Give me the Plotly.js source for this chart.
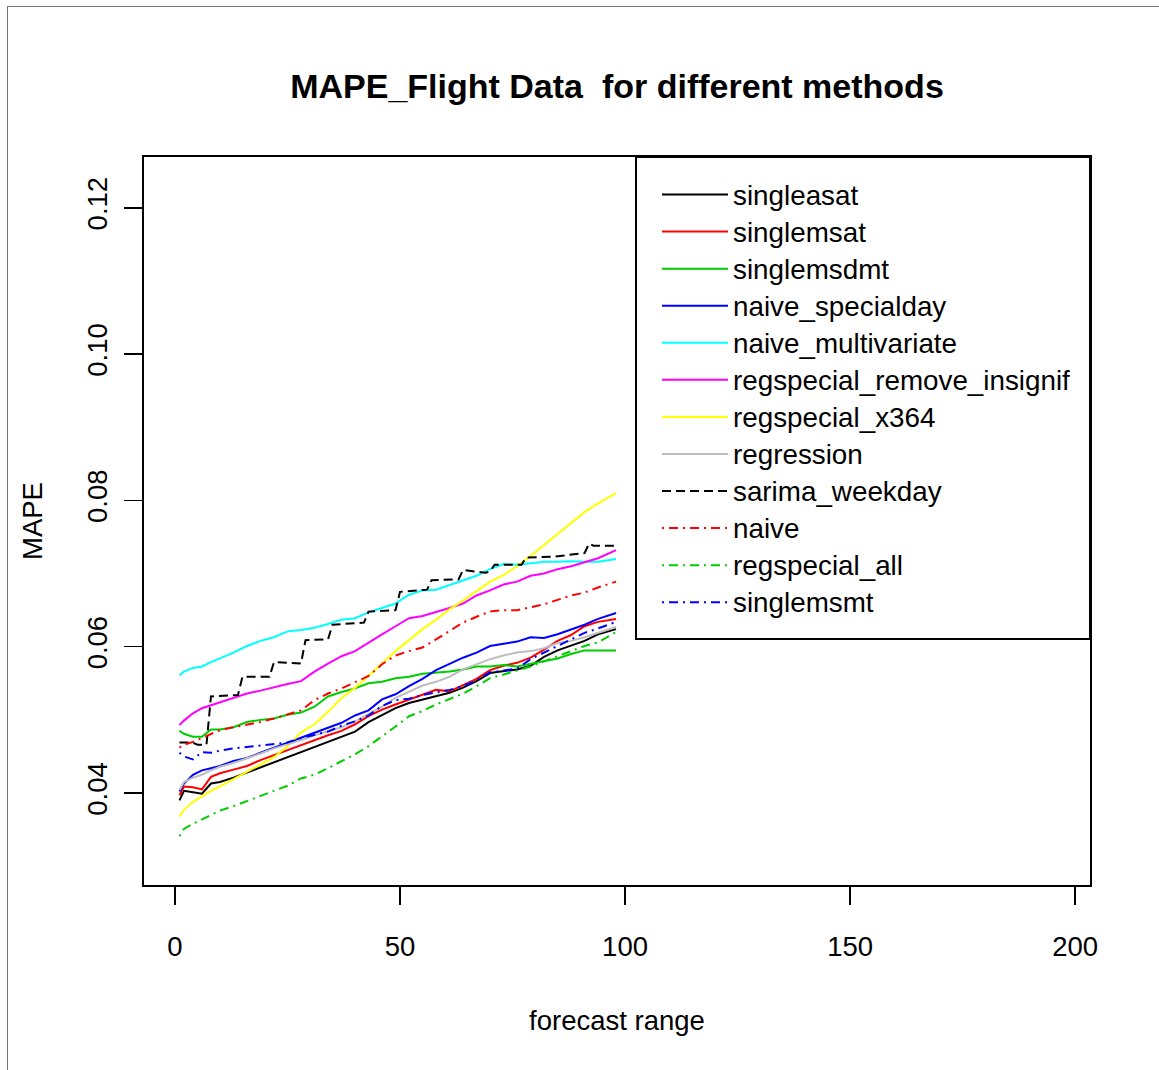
<!DOCTYPE html>
<html>
<head>
<meta charset="utf-8">
<script src="https://cdn.plot.ly/plotly-3.0.1.min.js"></script>
<style>
  html, body { margin: 0; padding: 0; background: #ffffff; }
  #wrap { position: relative; width: 1159px; height: 1070px; overflow: hidden; }
  #chart { position: absolute; left: 0; top: 0; width: 1159px; height: 1070px; }
  #frame { position: absolute; left: 7px; top: 6px; right: -2px; bottom: -2px;
           border-top: 1px solid #777777; border-left: 1px solid #777777; pointer-events: none; }
</style>
</head>
<body>
<div id="wrap"><div id="chart"></div><div id="frame"></div></div>
<script>
// ---- data ----
const forecastRange = [1,2,4,6,8,10,13,16,19,22,25,28,31,34,37,40,43,46,49,52,55,58,61,64,67,70,73,76,79,82,85,88,91,94,98];

const singleasat = [0.0390,0.0403,0.0401,0.0399,0.0413,0.0415,0.0421,0.0428,0.0434,0.0441,0.0449,0.0456,0.0463,0.0470,0.0477,0.0484,0.0497,0.0507,0.0516,0.0523,0.0528,0.0533,0.0537,0.0544,0.0553,0.0564,0.0566,0.0569,0.0574,0.0586,0.0595,0.0601,0.0608,0.0617,0.0624];
const singlemsat = [0.0397,0.0409,0.0408,0.0405,0.0422,0.0427,0.0432,0.0437,0.0445,0.0452,0.0459,0.0466,0.0473,0.0479,0.0485,0.0494,0.0505,0.0514,0.0521,0.0528,0.0535,0.0541,0.0539,0.0547,0.0556,0.0568,0.0574,0.0578,0.0585,0.0596,0.0608,0.0616,0.0628,0.0634,0.0638];
const singlemsdmt = [0.0485,0.0481,0.0477,0.0477,0.0487,0.0487,0.0490,0.0497,0.0500,0.0502,0.0507,0.0510,0.0518,0.0532,0.0538,0.0543,0.0550,0.0552,0.0557,0.0559,0.0563,0.0564,0.0566,0.0569,0.0573,0.0573,0.0575,0.0573,0.0577,0.0581,0.0584,0.0590,0.0595,0.0595,0.0595];
const naive_specialday = [0.0402,0.0413,0.0425,0.0431,0.0434,0.0437,0.0444,0.0448,0.0455,0.0462,0.0469,0.0476,0.0483,0.0490,0.0496,0.0506,0.0513,0.0528,0.0535,0.0546,0.0556,0.0568,0.0577,0.0585,0.0592,0.0601,0.0604,0.0607,0.0613,0.0612,0.0617,0.0623,0.0630,0.0638,0.0646];
const naive_multivariate = [0.0561,0.0566,0.0571,0.0573,0.0579,0.0584,0.0592,0.0601,0.0608,0.0613,0.0621,0.0623,0.0626,0.0631,0.0637,0.0639,0.0647,0.0653,0.0659,0.0671,0.0677,0.0678,0.0684,0.0690,0.0697,0.0706,0.0713,0.0712,0.0714,0.0716,0.0716,0.0717,0.0716,0.0716,0.0720];
const regspecial_remove_insignif = [0.0493,0.0499,0.0509,0.0516,0.0520,0.0524,0.0531,0.0536,0.0540,0.0545,0.0549,0.0553,0.0566,0.0577,0.0587,0.0594,0.0606,0.0617,0.0628,0.0639,0.0642,0.0647,0.0653,0.0659,0.0670,0.0677,0.0685,0.0689,0.0697,0.0700,0.0706,0.0710,0.0716,0.0721,0.0732];
const regspecial_x364 = [0.0368,0.0377,0.0388,0.0396,0.0403,0.0409,0.0419,0.0428,0.0438,0.0449,0.0464,0.0483,0.0494,0.0511,0.0530,0.0544,0.0560,0.0577,0.0594,0.0609,0.0624,0.0637,0.0651,0.0663,0.0676,0.0689,0.0698,0.0710,0.0724,0.0739,0.0753,0.0768,0.0784,0.0796,0.0810];
const regression = [0.0404,0.0415,0.0421,0.0425,0.0431,0.0436,0.0441,0.0447,0.0454,0.0461,0.0466,0.0472,0.0479,0.0484,0.0490,0.0498,0.0508,0.0518,0.0530,0.0539,0.0547,0.0552,0.0559,0.0569,0.0576,0.0583,0.0588,0.0592,0.0594,0.0598,0.0605,0.0608,0.0613,0.0619,0.0627];
const naive = [0.0462,0.0466,0.0470,0.0475,0.0481,0.0486,0.0490,0.0493,0.0497,0.0502,0.0507,0.0513,0.0527,0.0536,0.0543,0.0551,0.0560,0.0576,0.0588,0.0594,0.0599,0.0610,0.0622,0.0633,0.0641,0.0648,0.0650,0.0650,0.0654,0.0658,0.0664,0.0670,0.0674,0.0681,0.0689];
const regspecial_all = [0.0341,0.0351,0.0358,0.0364,0.0370,0.0376,0.0382,0.0389,0.0396,0.0402,0.0410,0.0420,0.0425,0.0434,0.0443,0.0453,0.0464,0.0477,0.0491,0.0505,0.0512,0.0521,0.0528,0.0536,0.0546,0.0557,0.0562,0.0567,0.0573,0.0580,0.0587,0.0594,0.0601,0.0606,0.0620];
const singlemsmt = [0.0455,0.0450,0.0446,0.0456,0.0455,0.0458,0.0461,0.0463,0.0464,0.0467,0.0469,0.0475,0.0479,0.0484,0.0492,0.0498,0.0506,0.0519,0.0527,0.0529,0.0534,0.0537,0.0541,0.0546,0.0554,0.0565,0.0568,0.0570,0.0583,0.0592,0.0601,0.0610,0.0619,0.0625,0.0634];

// sarima_weekday is a weekly step series: its own x positions
const sarimaRange = [1,4,5,7,8,14,15,21,22,28,29,34,35,42,43,49,50,56,57,63,64,68,69,70,71,77,78,84,90,91,92,93,98];
const sarima_weekday = [0.0469,0.0469,0.0466,0.0466,0.0532,0.0534,0.0559,0.0559,0.0579,0.0577,0.0609,0.0610,0.0630,0.0633,0.0648,0.0650,0.0675,0.0678,0.0691,0.0692,0.0705,0.0701,0.0701,0.0703,0.0712,0.0712,0.0722,0.0723,0.0728,0.0728,0.0741,0.0738,0.0738];

const xTickVals = [0, 50, 100, 150, 200];
const yTickVals = [0.04, 0.06, 0.08, 0.10, 0.12];

// ---- styles ----
const DASHED = '9px,5px';
const DOTDASH = '2px,5px,9px,5px';

const seriesDefs = [
  { name: 'singleasat', x: forecastRange, y: singleasat, color: '#000000', dash: 'solid' },
  { name: 'singlemsat', x: forecastRange, y: singlemsat, color: '#FF0000', dash: 'solid' },
  { name: 'singlemsdmt', x: forecastRange, y: singlemsdmt, color: '#00CD00', dash: 'solid' },
  { name: 'naive_specialday', x: forecastRange, y: naive_specialday, color: '#0000FF', dash: 'solid' },
  { name: 'naive_multivariate', x: forecastRange, y: naive_multivariate, color: '#00FFFF', dash: 'solid' },
  { name: 'regspecial_remove_insignif', x: forecastRange, y: regspecial_remove_insignif, color: '#FF00FF', dash: 'solid' },
  { name: 'regspecial_x364', x: forecastRange, y: regspecial_x364, color: '#FFFF00', dash: 'solid' },
  { name: 'regression', x: forecastRange, y: regression, color: '#BEBEBE', dash: 'solid' },
  { name: 'sarima_weekday', x: sarimaRange, y: sarima_weekday, color: '#000000', dash: DASHED },
  { name: 'naive', x: forecastRange, y: naive, color: '#FF0000', dash: DOTDASH },
  { name: 'regspecial_all', x: forecastRange, y: regspecial_all, color: '#00CD00', dash: DOTDASH },
  { name: 'singlemsmt', x: forecastRange, y: singlemsmt, color: '#0000FF', dash: DOTDASH }
];

const LEGEND_TEXT_PX = 27.8;
const traces = seriesDefs.map(s => ({
  type: 'scatter',
  mode: 'lines',
  name: '<span style="font-size:' + LEGEND_TEXT_PX + 'px">' + s.name + '</span>',
  x: s.x,
  y: s.y,
  line: { color: s.color, width: 2, dash: s.dash },
  hoverinfo: 'skip'
}));

const FONT = 'Liberation Sans, Arial, Helvetica, sans-serif';
const L = 144, R = 1090, T = 157, B = 885;
const pw = R - L, ph = B - T;
const px2paperX = p => (p - L) / pw;
const px2paperY = p => (B - p) / ph;

const layout = {
  width: 1159,
  height: 1070,
  margin: { l: L, r: 1159 - R, t: T, b: 1070 - B, pad: 0 },
  paper_bgcolor: '#ffffff',
  plot_bgcolor: '#ffffff',
  font: { family: FONT, color: '#000000', size: 27.5 },
  showlegend: true,
  title: {
    text: 'MAPE_Flight Data\u00A0 for different methods',
    font: { family: FONT, size: 34, weight: 'bold', color: '#000000' },
    x: 0.5, xref: 'paper', xanchor: 'center',
    y: 1 - 86 / 1070, yref: 'container', yanchor: 'middle'
  },
  xaxis: {
    range: [-6.88, 203.3],
    tickmode: 'array',
    tickvals: xTickVals,
    ticktext: xTickVals.map(v => String(v)),
    ticks: 'outside', ticklen: 18, tickwidth: 1.5, tickcolor: '#000000',
    ticklabelstandoff: 18,
    showline: true, mirror: true, linecolor: '#000000', linewidth: 2,
    showgrid: false, zeroline: false,
    tickfont: { family: FONT, size: 27.5 },
    title: { text: 'forecast range', font: { family: FONT, size: 27.5 }, standoff: 50 }
  },
  yaxis: {
    range: [0.02743, 0.12694],
    tickmode: 'array',
    tickvals: yTickVals,
    ticktext: yTickVals.map(v => v.toFixed(2)),
    tickangle: -90,
    ticks: 'outside', ticklen: 18, tickwidth: 1.5, tickcolor: '#000000',
    ticklabelstandoff: 6,
    showline: true, mirror: true, linecolor: '#000000', linewidth: 2,
    showgrid: false, zeroline: false,
    tickfont: { family: FONT, size: 27.5 },
    title: { text: 'MAPE', font: { family: FONT, size: 27.5 }, standoff: 31 }
  },
  legend: {
    x: px2paperX(657), xanchor: 'left',
    y: px2paperY(171), yanchor: 'top',
    bgcolor: 'rgba(0,0,0,0)',
    borderwidth: 0,
    itemwidth: 66,
    font: { family: FONT, size: 26.2, color: '#000000' },
    traceorder: 'normal'
  },
  shapes: [
    {
      type: 'rect', xref: 'paper', yref: 'paper',
      x0: px2paperX(636), x1: 1, y0: px2paperY(639), y1: 1,
      line: { color: '#000000', width: 2 }, fillcolor: 'rgba(0,0,0,0)', layer: 'above'
    }
  ]
};

Plotly.newPlot('chart', traces, layout, { displayModeBar: false, staticPlot: true });
</script>
</body>
</html>
